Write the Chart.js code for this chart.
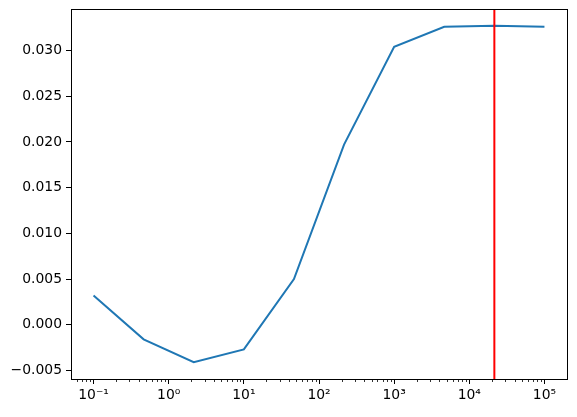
<!doctype html>
<html lang="en">
  <head>
    <meta charset="utf-8">
    <title>Log sweep</title>
    <script src="https://cdn.jsdelivr.net/npm/chart.js"></script>
    <style>
      body { margin: 0; background: #fff; }
      .plot-box { width: 577px; height: 417px; }
    </style>
  </head>
  <body>
    <div class="plot-box">
      <canvas id="sweepChart" width="577" height="417"></canvas>
    </div>
    <script>
      // values
      const xValues = [0.1, 0.464, 2.154, 10, 46.42, 215.4, 1000, 4642, 21544, 100000];
      const yValues = [0.0032, -0.0016, -0.0041, -0.0027, 0.0050, 0.0197, 0.0304, 0.0326, 0.0327, 0.0326];
      const markerX = 21544;

      const xTickValues = [0.1, 1, 10, 100, 1000, 10000, 100000];
      const xTickLabels = ['10\u207B\u00B9', '10\u2070', '10\u00B9', '10\u00B2', '10\u00B3', '10\u2074', '10\u2075'];
      const yTickValues = [-0.005, 0, 0.005, 0.010, 0.015, 0.020, 0.025, 0.030];

      const xMin = Math.pow(10, -1.3), xMax = Math.pow(10, 5.3);
      const yMin = -0.00594, yMax = 0.03454;

      const fontSpec = { family: 'DejaVu Sans', size: 13.9 };

      // frame, minor log ticks and the red vertical marker
      const extras = {
        id: 'extras',
        afterDatasetsDraw(chart) {
          const { ctx, chartArea: a, scales: { x, y } } = chart;
          ctx.save();
          // red marker line
          const mx = x.getPixelForValue(markerX);
          ctx.strokeStyle = '#ff0000';
          ctx.lineWidth = 2;
          ctx.beginPath();
          ctx.moveTo(mx, a.top);
          ctx.lineTo(mx, a.bottom);
          ctx.stroke();
          // minor ticks
          ctx.strokeStyle = '#000';
          ctx.lineWidth = 0.8;
          for (let e = -2; e <= 5; e++) {
            for (let m = 2; m <= 9; m++) {
              const v = m * Math.pow(10, e);
              if (v < xMin || v > xMax) continue;
              const px = Math.round(x.getPixelForValue(v)) + 0.5;
              ctx.beginPath();
              ctx.moveTo(px, a.bottom);
              ctx.lineTo(px, a.bottom + 3);
              ctx.stroke();
            }
          }
          // box
          ctx.lineWidth = 1;
          ctx.strokeRect(Math.round(a.left) + 0.5, Math.round(a.top) + 0.5,
                         Math.round(a.right - a.left), Math.round(a.bottom - a.top));
          ctx.restore();
        }
      };

      new Chart(document.getElementById('sweepChart'), {
        type: 'line',
        data: {
          datasets: [{
            data: xValues.map((v, i) => ({ x: v, y: yValues[i] })),
            borderColor: '#1f77b4',
            borderWidth: 2,
            pointRadius: 0,
            fill: false,
            tension: 0
          }]
        },
        options: {
          responsive: false,
          animation: false,
          layout: { padding: { left: 0, top: 9, right: 10, bottom: 0 } },
          plugins: { legend: { display: false }, tooltip: { enabled: false } },
          scales: {
            x: {
              type: 'logarithmic',
              min: xMin,
              max: xMax,
              afterBuildTicks: s => { s.ticks = xTickValues.map(v => ({ value: v })); },
              afterFit: s => { s.height = 38; s.paddingLeft = 0; s.paddingRight = 0; },
              ticks: {
                autoSkip: false,
                maxRotation: 0,
                padding: 3,
                color: '#000',
                font: fontSpec,
                callback: (v, i) => xTickLabels[i]
              },
              grid: { drawOnChartArea: false, tickLength: 5, color: '#000', tickColor: '#000' },
              border: { display: true, color: '#000' }
            },
            y: {
              min: yMin,
              max: yMax,
              afterBuildTicks: s => { s.ticks = yTickValues.map(v => ({ value: v })); },
              afterFit: s => { s.width = 71; s.paddingTop = 0; s.paddingBottom = 0; },
              ticks: {
                padding: 4,
                color: '#000',
                font: fontSpec,
                callback: v => v.toFixed(3).replace('-', '\u2212')
              },
              grid: { drawOnChartArea: false, tickLength: 5, color: '#000', tickColor: '#000' },
              border: { display: true, color: '#000' }
            }
          }
        },
        plugins: [extras]
      });
    </script>
  </body>
</html>
